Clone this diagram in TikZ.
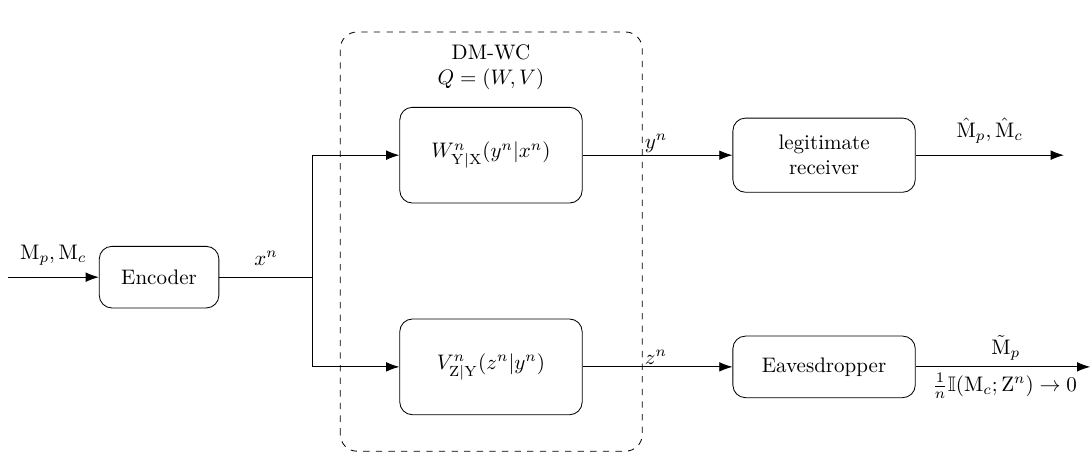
\documentclass[tikz,border=0pt]{standalone}
\usepackage{amssymb}
\usepackage{amsmath}
\usepackage{tikz}
\usetikzlibrary{arrows.meta}
\tikzset{
    block/.style={draw, rounded corners=6pt, align=center, minimum width=2cm, minimum height=1.03cm}, % blocks
    chan/.style={block, minimum width=3.05cm, minimum height=1.6cm}, % channel blocks
    arr/.style={-{Latex[length=2.2mm, width=1.6mm]}}
}

\begin{document}
\begin{tikzpicture}[font=\normalsize]
    \def\ytop{4.98} \def\ymid{2.94} \def\ybot{1.44}
    \useasboundingbox (0,0) rectangle (18.26,7.575);

    % the wiretap channel
    \draw[dashed, rounded corners=8pt] (5.69,0.03) rectangle (10.74,7.04);
    \node[align=center] (dmwc) at (8.21,6.45) {DM-WC\\$Q=(W,V)$};

    \coordinate (in) at (0.13,\ymid);
    \node[block] (enc) at (2.66,\ymid) {Encoder};
    \coordinate (split) at (5.23,\ymid);
    \node[chan] (chW) at (8.21,\ytop) {$W^n_{\mathrm{Y|X}}(y^n|x^n)$};
    \node[chan] (chV) at (8.21,\ybot) {$V^n_{\mathrm{Z|Y}}(z^n|y^n)$};
    \node[block, minimum width=3.05cm, minimum height=1.24cm] (rx) at (13.78,\ytop) {legitimate\\receiver};
    \node[block, minimum width=3.05cm] (eve) at (13.78,\ybot) {Eavesdropper};
    \coordinate (outR) at (17.79,\ytop);
    \coordinate (outE) at (18.23,\ybot);

    \draw[arr] (in) -- (enc) node[midway, above=2pt] {$\mathrm{M}_p,\mathrm{M}_c$};
    \draw (enc) -- (split) node[midway, above=2pt] {$x^n$};
    \draw[arr] (split) |- (chW);
    \draw[arr] (split) |- (chV);
    \draw[arr] (chW) -- (rx);
    \draw[arr] (chV) -- (eve);
    \node[anchor=south west, inner sep=1pt] (ylab) at (10.74,\ytop) {$y^n$};
    \node[anchor=south west, inner sep=1pt] (zlab) at (10.74,\ybot) {$z^n$};
    \draw[arr] (rx) -- (outR) node[midway, above=2pt] {$\hat{\mathrm{M}}_p,\hat{\mathrm{M}}_c$};
    \draw[arr] (eve) -- (outE);
    \node (mtil) at (16.82,1.76) {$\tilde{\mathrm{M}}_p$};
    \node (leak) at (16.80,1.12) {$\frac{1}{n}\mathbb{I}(\mathrm{M}_c;\mathrm{Z}^n)\rightarrow 0$};
\end{tikzpicture}
\end{document}
